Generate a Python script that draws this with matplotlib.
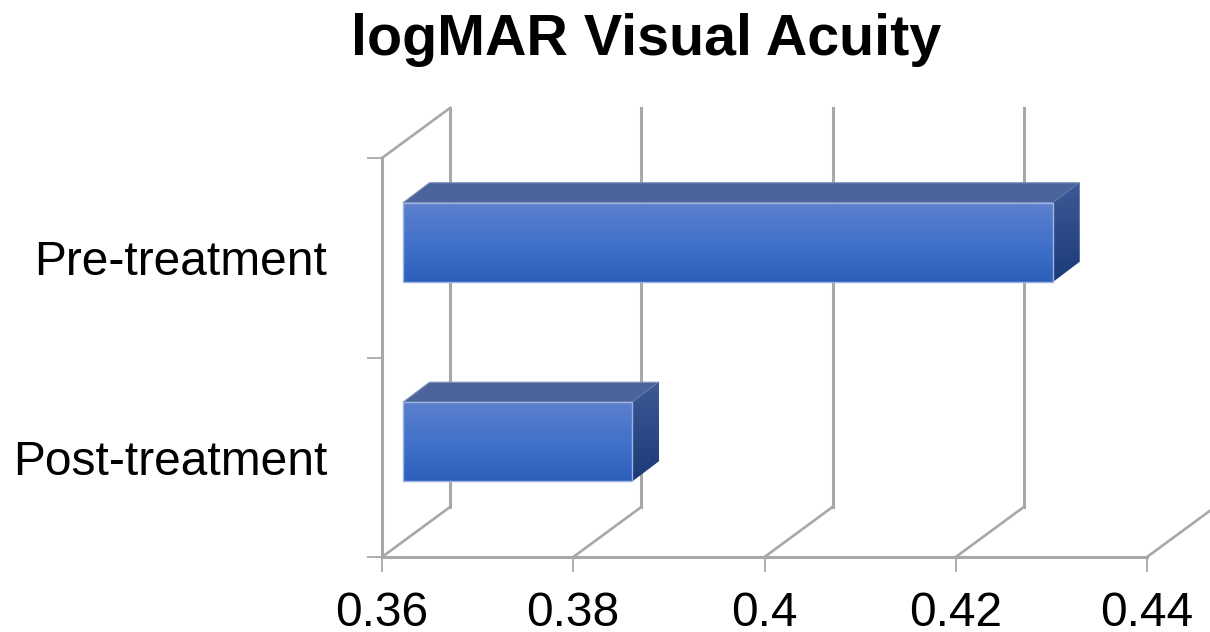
import matplotlib
matplotlib.use('Agg')
import matplotlib.pyplot as plt
from matplotlib.patches import Polygon
import numpy as np

plt.rcParams['font.family'] = ['Liberation Sans', 'DejaVu Sans']

title = 'logMAR Visual Acuity'
categories = ['Post-treatment', 'Pre-treatment']
values = [0.384, 0.428]
x_ticks = [0.36, 0.38, 0.40, 0.42, 0.44]
x_labels = ['0.36', '0.38', '0.4', '0.42', '0.44']

W, H = 1210, 632
GRID = '#a8a8a8'

fig = plt.figure(figsize=(W / 100, H / 100), dpi=100, facecolor='white')
ax = fig.add_axes([382 / W, (H - 557) / H, (1147 - 382) / W, (557 - 158) / H])
ax.set_xlim(0.36, 0.44)
ax.set_ylim(0, 2)

# pixel sizes turned into data units for the fake 3d depth
px_x = 0.08 / (1147 - 382)
px_y = 2 / (557 - 158)


def shift(x, y, dx, dy):
    return (x + dx * px_x, y + dy * px_y)


# back wall + floor lines
for t in x_ticks:
    ax.plot([t, shift(t, 0, 68, 50)[0]], [0, shift(t, 0, 68, 50)[1]], color=GRID, lw=1.9, clip_on=False, zorder=1)
    ax.plot([shift(t, 0, 68, 50)[0]] * 2, [shift(t, 0, 68, 50)[1], shift(t, 2, 68, 50)[1]], color=GRID, lw=2.2, clip_on=False, zorder=1)
ax.plot([0.36, shift(0.36, 2, 68, 50)[0]], [2, shift(0.36, 2, 68, 50)[1]], color=GRID, lw=1.9, clip_on=False, zorder=1)


def gradient(colors, corners, extent, z):
    # vertical gradient clipped to a polygon
    poly = Polygon(corners, closed=True, facecolor='none', edgecolor='none', transform=ax.transData)
    ax.add_patch(poly)
    c = np.array([matplotlib.colors.to_rgb(k) for k in colors])
    pos = np.linspace(0, 1, len(colors))
    t = np.linspace(0, 1, 128)
    img = np.stack([np.interp(t, pos, c[:, i]) for i in range(3)], axis=1)[:, None, :]
    im = ax.imshow(img, extent=extent, origin='upper', aspect='auto', zorder=z, interpolation='bilinear')
    im.set_clip_path(poly)


bar_h = 79 * px_y
for i, v in enumerate(values):
    yc = i + 0.5
    x0, y_mid = shift(0.36, yc, 21, 15.5)
    x1 = shift(v, yc, 21, 15.5)[0]
    y0 = y_mid - bar_h / 2
    y1 = y_mid + bar_h / 2
    bx, by = 26.5 * px_x, 20 * px_y

    # front
    gradient(['#5d80cd', '#4272cb', '#2c5fba'], [(x0, y0), (x1, y0), (x1, y1), (x0, y1)], (x0, x1, y0, y1), 3)
    ax.add_patch(Polygon([(x0, y0), (x1, y0), (x1, y1), (x0, y1)], closed=True, fill=False, edgecolor='#9db4e0', lw=1, zorder=4))
    # top
    ax.add_patch(Polygon([(x0, y1), (x1, y1), (x1 + bx, y1 + by), (x0 + bx, y1 + by)], closed=True,
                         facecolor='#4b6499', edgecolor='#7b90ba', lw=0.8, zorder=3))
    # side
    side = [(x1, y0), (x1 + bx, y0 + by), (x1 + bx, y1 + by), (x1, y1)]
    gradient(['#3d5a96', '#1b3a78'], side, (x1, x1 + bx, y0, y1 + by), 3)

ax.set_xlim(0.36, 0.44)
ax.set_ylim(0, 2)

for s in ['top', 'right']:
    ax.spines[s].set_visible(False)
for s in ['left', 'bottom']:
    ax.spines[s].set_color(GRID)
    ax.spines[s].set_linewidth(2.2)

ax.set_xticks(x_ticks)
ax.set_xticklabels(x_labels, fontsize=34.5)
ax.set_yticks([0, 1, 2])
ax.set_yticklabels([])
ax.set_yticks([0.5, 1.5], minor=True)
ax.set_yticklabels(categories, minor=True, fontsize=34.5)
ax.tick_params(axis='x', length=10.8, width=1.3, color=GRID, pad=14, labelcolor='black')
ax.tick_params(axis='y', which='major', length=10.8, width=1.3, color=GRID)
ax.tick_params(axis='y', which='minor', length=0, pad=39.5, labelcolor='black')

fig.text(646 / W, (H - 40) / H, title, ha='center', va='center', fontsize=41.3, fontweight='bold', color='black')

fig.savefig('out.png', dpi=100, facecolor='white')
